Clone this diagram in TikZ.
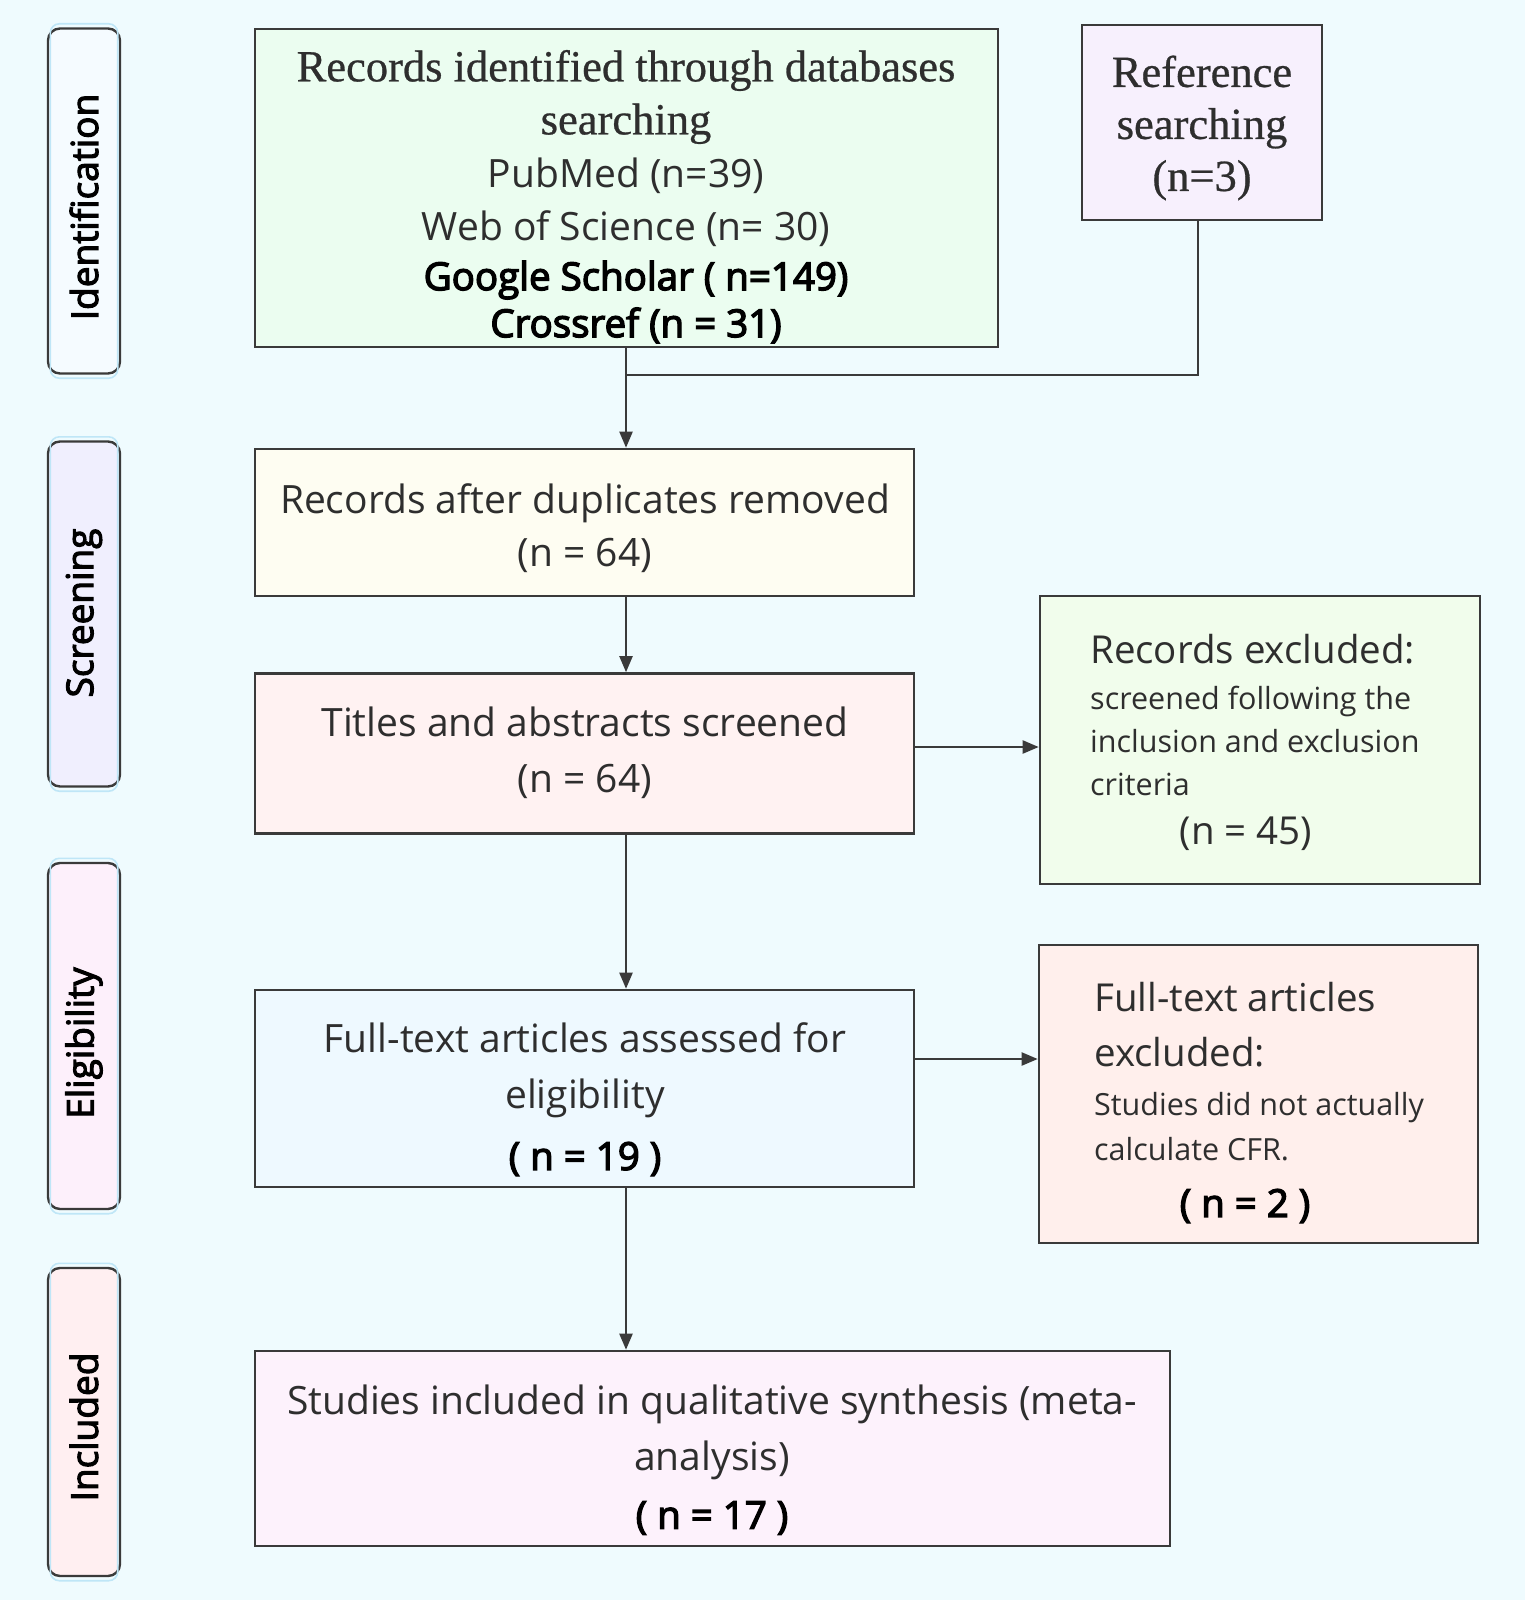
\documentclass[tikz,border=0pt]{standalone}
\usepackage{fontspec}
\setmainfont{Open Sans}
\newfontfamily\serifft[FakeBold=0.6]{Liberation Serif}
\newfontfamily\semift[FakeBold=3.5]{Open Sans}
\newfontfamily\pillft[FakeBold=3]{Open Sans}
\usetikzlibrary{arrows.meta}
\definecolor{bgc}{HTML}{EFFBFE}
\definecolor{edgec}{HTML}{3A3A3A}
\definecolor{glowc}{HTML}{BFE6F7}
\definecolor{txtc}{HTML}{2E2E2E}
\definecolor{fA}{HTML}{EBFDF0}
\definecolor{fB}{HTML}{F7F0FD}
\definecolor{fC}{HTML}{FEFDF2}
\definecolor{fD}{HTML}{FFF2F2}
\definecolor{fE}{HTML}{F1FDEC}
\definecolor{fF}{HTML}{EEF9FF}
\definecolor{fG}{HTML}{FFEFEC}
\definecolor{fH}{HTML}{FDF2FC}
\definecolor{pA}{HTML}{F5FBFF}
\definecolor{pB}{HTML}{F0EFFE}
\definecolor{pC}{HTML}{FDF0FB}
\definecolor{pD}{HTML}{FFEFF1}
\tikzset{
  box/.style={draw=edgec, line width=2.6pt, rectangle, inner sep=0pt},
  pill/.style={draw=edgec, line width=2.4pt, rounded corners=12pt, rectangle, inner sep=0pt,
     minimum width=72pt},
  pilltxt/.style={rotate=90, font=\pillft\fontsize{37}{40}\selectfont, text=black},
  conn/.style={draw=edgec, line width=2.2pt},
  arr/.style={conn, -{Triangle[length=16pt,width=13pt]}},
  txt/.style={align=center, text=txtc, inner sep=0pt},
  boldtxt/.style={txt, text=black, font=\semift\fontsize{38.5}{47}\selectfont},
}
\begin{document}
\begin{tikzpicture}[x=1pt,y=-1pt]
\fill[bgc] (0,0) rectangle (1525,1600);
\useasboundingbox (0,0) rectangle (1525,1600);

% phase pills
\node[pill, fill=pA, minimum height=345pt] (p1) at (84,201) {};
\node[pill, fill=pB, minimum height=345pt] (p2) at (84,614) {};
\node[pill, fill=pC, minimum height=346pt] (p3) at (84,1036) {};
\node[pill, fill=pD, minimum height=308pt] (p4) at (84,1422) {};
\foreach \p in {p1,p2,p3,p4}{
  \draw[glowc, line width=1.6pt, rounded corners=9pt]
    ([shift={(3.5pt,-3.5pt)}]\p.south west) rectangle ([shift={(-3.5pt,3.5pt)}]\p.north east);
}
\node[pilltxt] (l1) at (84,207) {Identification};
\node[pilltxt] (l2) at (84,613) {Screening};
\node[pilltxt] (l3) at (84,1043) {Eligibility};
\node[pilltxt] (l4) at (84,1427) {Included};

% boxes
\node[box, fill=fA, minimum width=743pt, minimum height=318pt] (b1) at (626.5,188) {};
\node[box, fill=fB, minimum width=240pt, minimum height=195pt] (b2) at (1202,122.5) {};
\node[box, fill=fC, minimum width=659pt, minimum height=147pt] (b3) at (584.5,522.5) {};
\node[box, fill=fD, minimum width=659pt, minimum height=160pt] (b4) at (584.5,753.5) {};
\node[box, fill=fE, minimum width=440pt, minimum height=288pt] (b5) at (1260,740) {};
\node[box, fill=fF, minimum width=659pt, minimum height=197pt] (b6) at (584.5,1088.5) {};
\node[box, fill=fG, minimum width=439pt, minimum height=298pt] (b7) at (1258.5,1094) {};
\node[box, fill=fH, minimum width=915pt, minimum height=195pt] (b8) at (712.5,1448.5) {};

% texts
\node[txt, font=\serifft\fontsize{44.5}{53}\selectfont] (t1a) at (626,97) {Records identified through databases\\searching};
\node[txt, font=\fontsize{39}{53}\selectfont] (t1b) at (626,202) {PubMed (n=39)\\Web of Science (n= 30)};
\node[boldtxt] (t1c) at (636,302) {Google Scholar ( n=149)\\Crossref (n = 31)};

\node[txt, font=\serifft\fontsize{44.5}{52}\selectfont] (t2) at (1202,128) {Reference\\searching\\(n=3)};

\node[txt, font=\fontsize{39}{53}\selectfont] (t3) at (585,528) {Records after duplicates removed\\(n = 64)};
\node[txt, font=\fontsize{39}{56}\selectfont] (t4) at (585,753) {Titles and abstracts screened\\(n = 64)};

\node[txt, align=left, anchor=west, font=\fontsize{38.5}{44}\selectfont] (t5a) at (1090,649) {Records excluded:};
\node[txt, align=left, anchor=west, font=\fontsize{30.5}{43}\selectfont] (t5b) at (1090,741) {screened following the\\inclusion and exclusion\\criteria};
\node[txt, font=\fontsize{38.5}{44}\selectfont] (t5c) at (1246,834) {(n = 45)};

\node[txt, font=\fontsize{39}{56}\selectfont] (t6a) at (585,1070) {Full-text articles assessed for\\eligibility};
\node[boldtxt] (t6b) at (585,1159) {( n = 19 )};

\node[txt, align=left, anchor=west, font=\fontsize{38.5}{55}\selectfont] (t7a) at (1094,1025) {Full-text articles\\excluded:};
\node[txt, align=left, anchor=west, font=\fontsize{30.5}{45}\selectfont] (t7b) at (1094,1127) {Studies did not actually\\calculate CFR.};
\node[boldtxt] (t7c) at (1245,1206) {( n = 2 )};

\node[txt, font=\fontsize{39}{56}\selectfont] (t8a) at (712,1432) {Studies included in qualitative synthesis (meta-\\analysis)};
\node[boldtxt] (t8b) at (712,1518) {( n = 17 )};

% connectors
\coordinate (j) at (626,375);
\draw[conn] (b1.south -| j) -- (j);
\draw[conn] (b2.south -| 1198,0) |- (j);
\draw[arr] (j) -- (b3.north -| j);
\draw[arr] (b3.south -| j) -- (b4.north -| j);
\draw[arr] (b4.south -| j) -- (b6.north -| j);
\draw[arr] (b6.south -| j) -- (b8.north -| j);
\draw[arr] (b4.east |- 0,747) -- (b5.west |- 0,747);
\draw[arr] (b6.east |- 0,1059) -- (b7.west |- 0,1059);
\end{tikzpicture}
\end{document}
